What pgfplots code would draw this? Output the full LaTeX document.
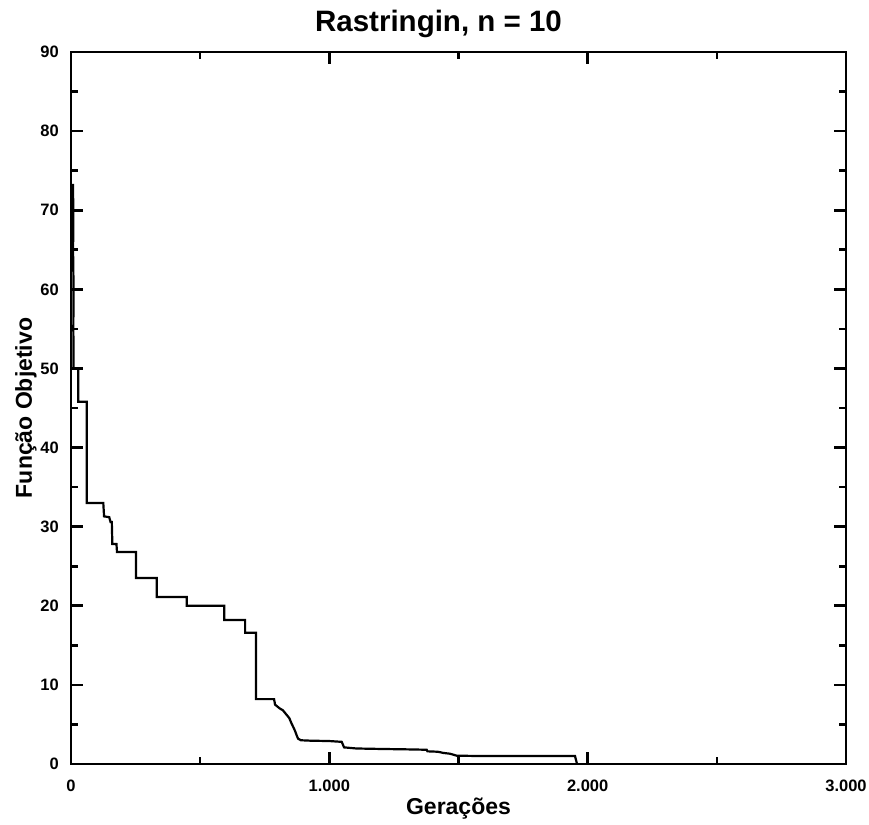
\documentclass[border=0pt]{standalone}
\usepackage{pgfplots}
\pgfplotsset{compat=1.18}
\usepackage{fontspec}
\setmainfont{Liberation Sans}
\begin{document}
\begin{tikzpicture}
\begin{axis}[
  scale only axis,
  width=775pt, height=712pt,
  xmin=0, xmax=3000, ymin=0, ymax=90,
  xtick={0,1000,2000,3000},
  xticklabels={0,1.000,2.000,3.000},
  minor xtick={500,1500,2500},
  ytick={0,10,...,90},
  minor ytick={5,15,...,85},
  tick align=inside,
  major tick length=12pt,
  minor tick length=7pt,
  every tick/.style={black, line width=2.6pt},
  axis line style={black, line width=2.8pt},
  /pgf/number format/assume math mode=true,
  tick label style={font=\fontsize{16.5}{19}\selectfont\bfseries, inner sep=0pt},
  yticklabel style={anchor=east, xshift=-12pt},
  xticklabel style={anchor=north, yshift=-16pt},
  clip=false,
]
\addplot[black, line width=2.2pt, line join=miter] coordinates {
(0,73.2) (8,73.2) (9,68) (8,65) (10,60) (9,55) (10,52) (10,50)
(28,50) (28,45.8) (61,45.8) (61,33.0) (125,33.0) (128,31.3) (148,31.2) (153,30.6)
(158,30.6) (160,27.8) (176,27.8) (178,26.8) (252,26.8) (252,23.5) (332,23.5)
(332,21.1) (448,21.1) (448,20.0) (593,20.0) (593,18.2) (674,18.2) (674,16.6)
(716,16.6) (716,8.2) (786,8.2) (790,7.5) (809,7.0) (820,6.8) (835,6.2) (845,5.8)
(854,5.1) (860,4.7) (867,4.2) (875,3.5) (879,3.2) (890,3.0) (925,2.95) (1000,2.9)
(1048,2.8) (1057,2.1) (1105,1.96) (1200,1.9) (1300,1.85) (1377,1.8) (1380,1.6)
(1420,1.55) (1441,1.4) (1467,1.3) (1493,1.05) (1600,1.0) (1951,1.0) (1958,0.1)
};
\node[font=\fontsize{29.5}{32}\selectfont\bfseries, anchor=base] at (rel axis cs:0.5,1) [xshift=-20pt, yshift=20.3pt] {Rastringin, n = 10};
\node[font=\fontsize{23}{26}\selectfont\bfseries, anchor=base] at (rel axis cs:0.5,0) [yshift=-51pt] {Gerações};
\node[font=\fontsize{23}{26}\selectfont\bfseries, anchor=base, rotate=90] at (rel axis cs:0,0.5) [yshift=39pt] {Função Objetivo};
\path (rel axis cs:0,0) -- ++(-71pt,-61pt);
\path (rel axis cs:1,1) -- ++(23pt,52pt);
\end{axis}
\end{tikzpicture}
\end{document}
